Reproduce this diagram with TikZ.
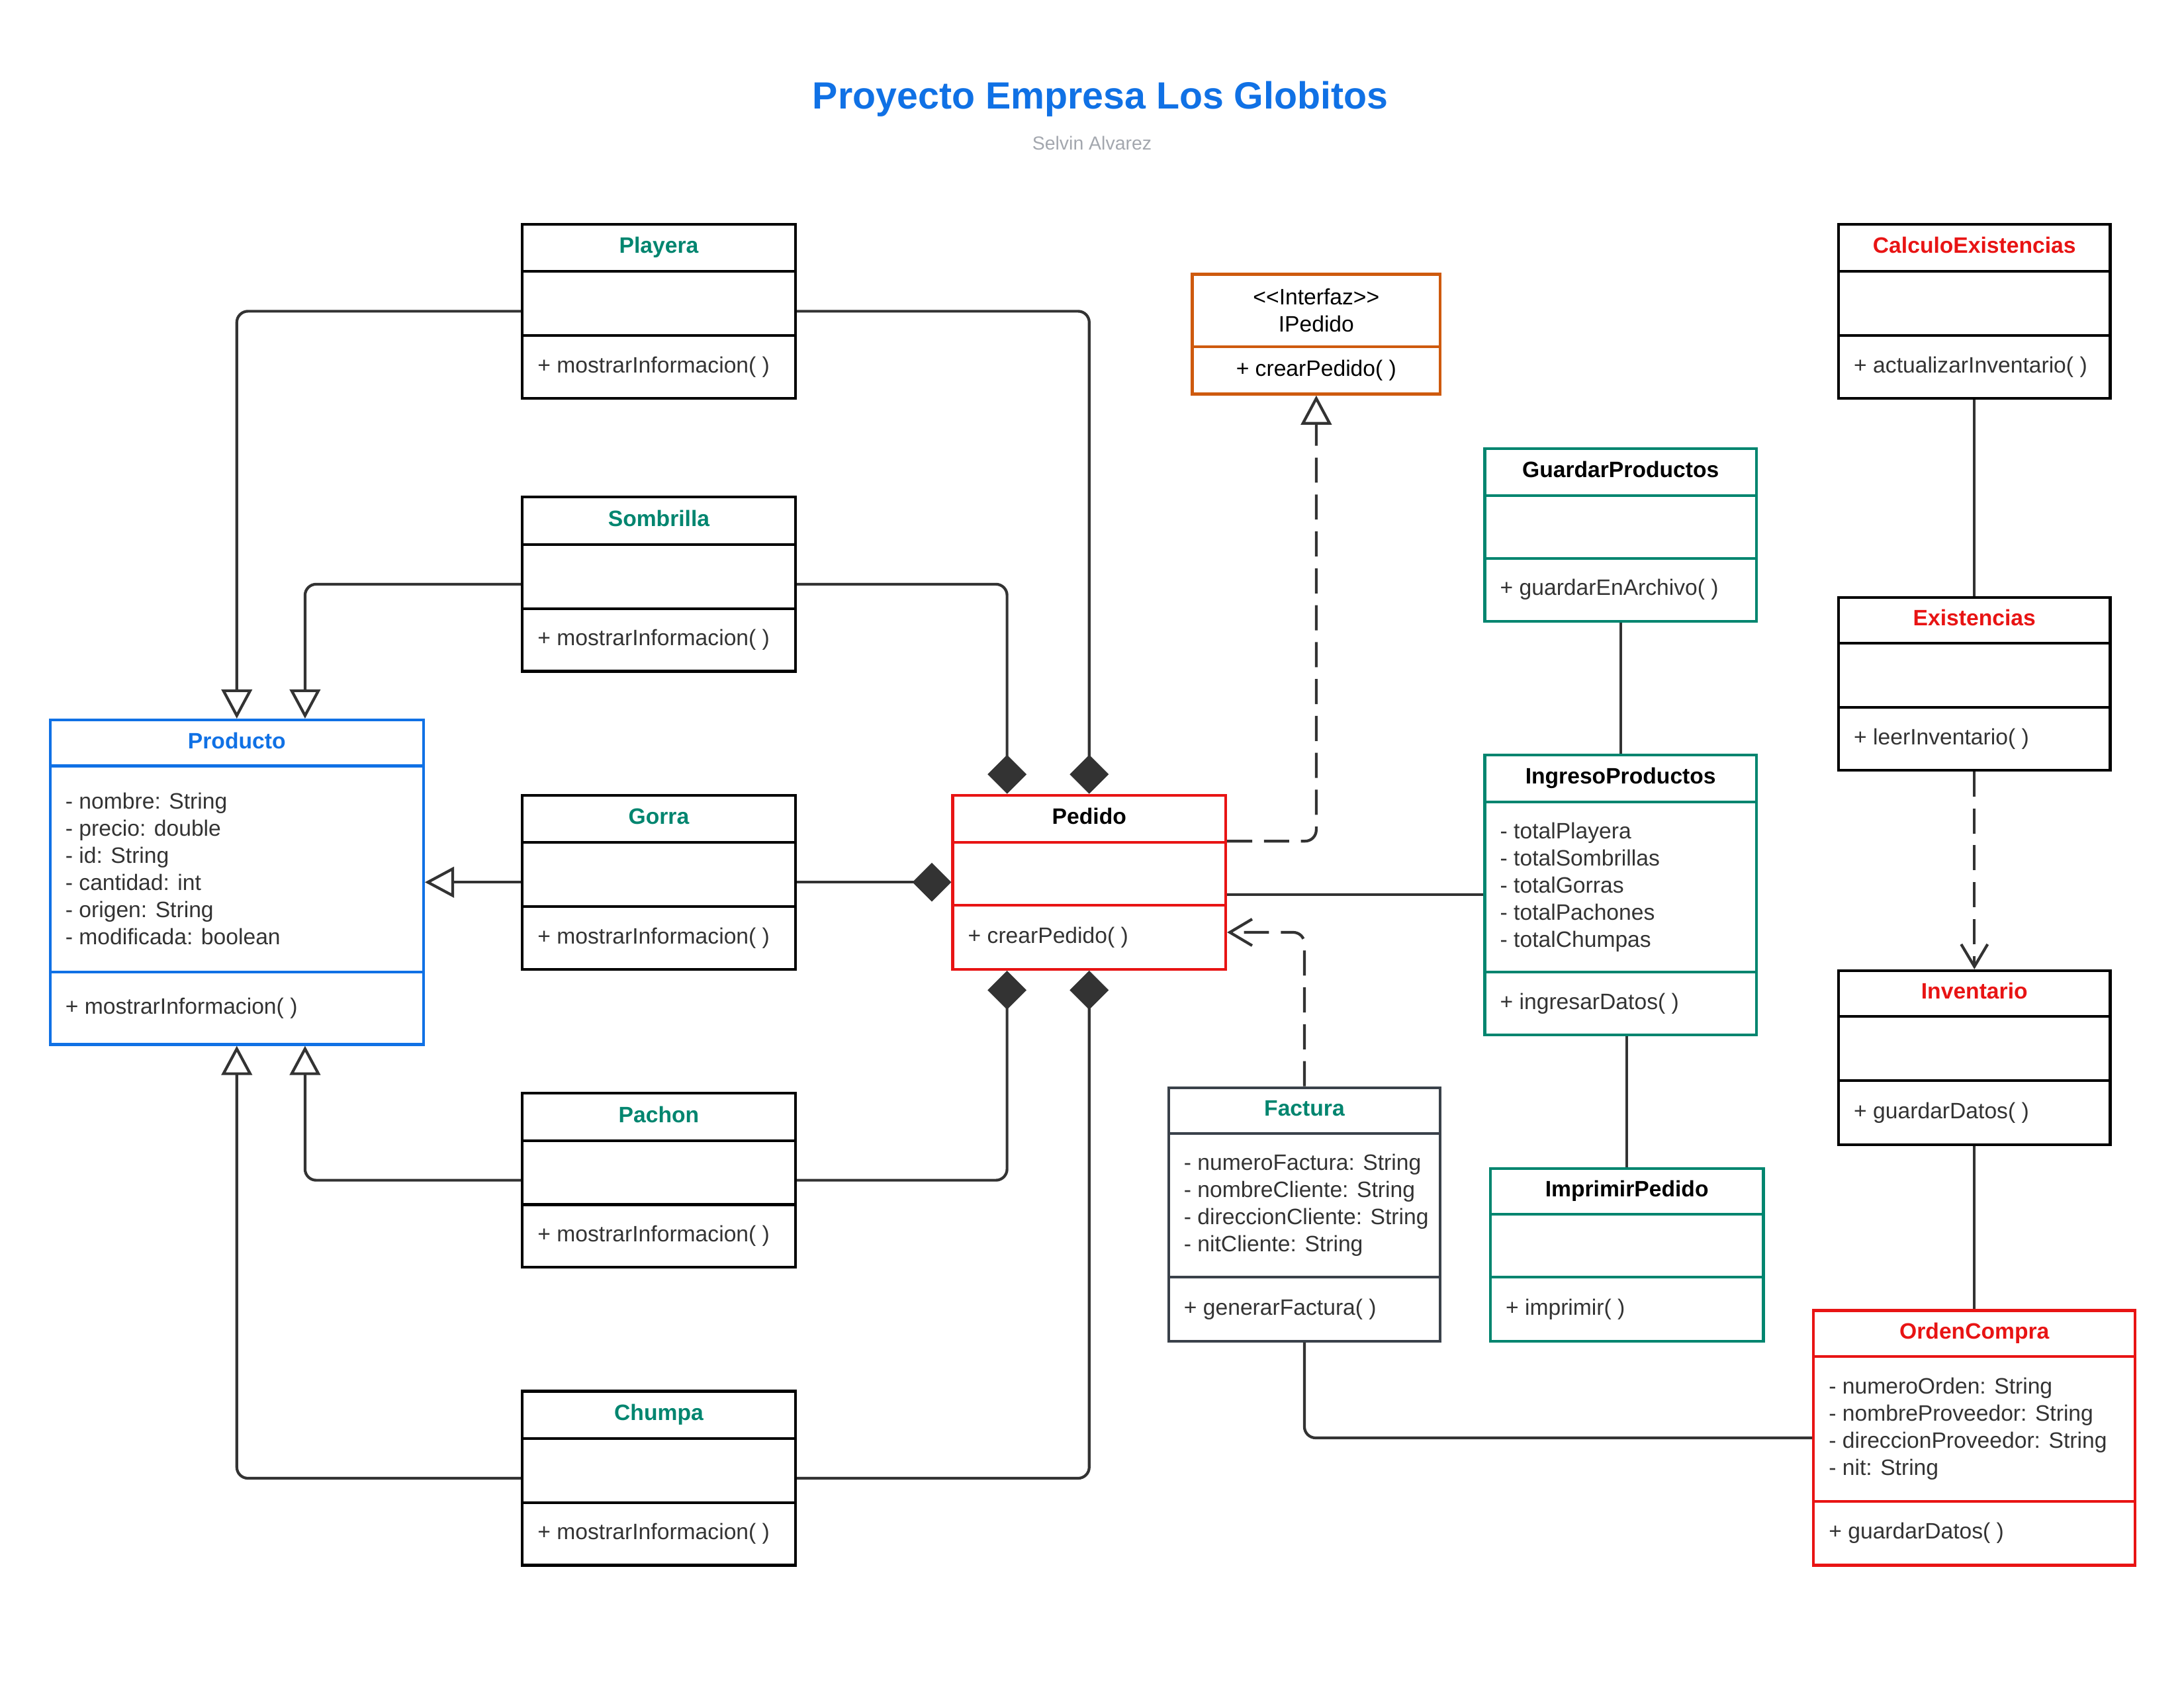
\documentclass[tikz,border=0pt]{standalone}
\usepackage{fontspec}
\setmainfont{Liberation Sans}
\usetikzlibrary{arrows.meta,shapes.multipart,calc}

\definecolor{azul}{HTML}{1071E5}
\definecolor{rojo}{HTML}{E81414}
\definecolor{naranja}{HTML}{CE5A0E}
\definecolor{verde}{HTML}{00856F}
\definecolor{linea}{HTML}{333333}
\definecolor{gris}{HTML}{3A414A}
\definecolor{subt}{HTML}{A3A7AE}

\newlength\unidad
\setlength\unidad{0.02cm}
\newlength\colw
\newcommand{\alto}[1]{\dimexpr#1\unidad-2\unidad\relax}
\newcommand{\titulo}[3][black]{\parbox[c][\alto{#2}][c]{\colw}{\centering\bfseries\color{#1}\strut #3}}
\newcommand{\hueco}[1]{\parbox[c][\alto{#1}][c]{\colw}{\strut}}
\newcommand{\lista}[2]{\parbox[c][\alto{#1}][c]{\colw}{\raggedright\leftskip=11\unidad #2}}

\tikzset{
  clase/.style={rectangle split, rectangle split parts=3, draw=#1, line width=0.04cm,
    inner sep=0pt, anchor=north west, text=linea},
  ancho/.code={\setlength\colw{#1\unidad}},
  conector/.style={color=linea, line width=0.04cm, rounded corners=0.16cm},
  herencia/.style={-{Triangle[open,length=0.42cm,width=0.44cm]}},
  compo/.style={-{Diamond[length=0.56cm,width=0.56cm]}},
  discont/.style={dash pattern=on 0.36cm off 0.17cm},
  depen/.style={discont, -{Straight Barb[length=0.32cm,width=0.38cm]}},
}

\begin{document}
\begin{tikzpicture}[x=0.02cm, y=-0.02cm, font=\fontsize{9.1}{11.1}\selectfont]
  \useasboundingbox (0,0) rectangle (1568,1212);

  % titulo
  \node[font=\fontsize{15.5}{18}\selectfont\bfseries, text=azul] (titulo) at (790,71) {Proyecto Empresa Los Globitos};
  \node[font=\fontsize{7.7}{9}\selectfont, text=subt] (autor) at (784,103) {Selvin Alvarez};

  % productos
  \node[clase=azul, ancho=268] (producto) at (35,516)
    {\titulo[azul]{33}{Producto}\nodepart{two}\lista{148}{- nombre: String\\- precio: double\\- id: String\\- cantidad: int\\- origen: String\\- modificada: boolean}\nodepart{three}\lista{52}{+ mostrarInformacion( )}};
  \node[clase=black, ancho=196] (playera) at (374,160)
    {\titulo[verde]{34}{Playera}\nodepart{two}\hueco{46}\nodepart{three}\lista{45}{+ mostrarInformacion( )}};
  \node[clase=black, ancho=196] (sombrilla) at (374,356)
    {\titulo[verde]{34}{Sombrilla}\nodepart{two}\hueco{46}\nodepart{three}\lista{45}{+ mostrarInformacion( )}};
  \node[clase=black, ancho=196] (gorra) at (374,570)
    {\titulo[verde]{34}{Gorra}\nodepart{two}\hueco{46}\nodepart{three}\lista{45}{+ mostrarInformacion( )}};
  \node[clase=black, ancho=196] (pachon) at (374,784)
    {\titulo[verde]{34}{Pachon}\nodepart{two}\hueco{46}\nodepart{three}\lista{45}{+ mostrarInformacion( )}};
  \node[clase=black, ancho=196] (chumpa) at (374,998)
    {\titulo[verde]{34}{Chumpa}\nodepart{two}\hueco{46}\nodepart{three}\lista{45}{+ mostrarInformacion( )}};

  % pedido
  \node[clase=rojo, ancho=196] (pedido) at (683,570)
    {\titulo{34}{Pedido}\nodepart{two}\hueco{45}\nodepart{three}\lista{46}{+ crearPedido( )}};
  \node[clase=naranja, rectangle split parts=2, ancho=178, text=black] (ipedido) at (855,196)
    {\parbox[c][\alto{52}][c]{\colw}{\centering\mbox{<}\mbox{<}Interfaz\mbox{>}\mbox{>}\\IPedido}\nodepart{two}\parbox[c][\alto{34}][c]{\colw}{\centering\strut + crearPedido( )}};
  \node[clase=gris, ancho=195] (factura) at (838,780)
    {\titulo[verde]{33}{Factura}\nodepart{two}\lista{103}{- numeroFactura: String\\- nombreCliente: String\\- direccionCliente: String\\- nitCliente: String}\nodepart{three}\lista{46}{+ generarFactura( )}};

  % ingreso
  \node[clase=verde, ancho=195] (guardar) at (1065,321)
    {\titulo{34}{GuardarProductos}\nodepart{two}\hueco{45}\nodepart{three}\lista{45}{+ guardarEnArchivo( )}};
  \node[clase=verde, ancho=195] (ingreso) at (1065,541)
    {\titulo{34}{IngresoProductos}\nodepart{two}\lista{122}{- totalPlayera\\- totalSombrillas\\- totalGorras\\- totalPachones\\- totalChumpas}\nodepart{three}\lista{45}{+ ingresarDatos( )}};
  \node[clase=verde, ancho=196] (imprimir) at (1069,838)
    {\titulo{33}{ImprimirPedido}\nodepart{two}\hueco{45}\nodepart{three}\lista{46}{+ imprimir( )}};

  % inventario
  \node[clase=black, ancho=195] (calculo) at (1319,160)
    {\titulo[rojo]{34}{CalculoExistencias}\nodepart{two}\hueco{46}\nodepart{three}\lista{45}{+ actualizarInventario( )}};
  \node[clase=black, ancho=195] (existencias) at (1319,428)
    {\titulo[rojo]{33}{Existencias}\nodepart{two}\hueco{46}\nodepart{three}\lista{45}{+ leerInventario( )}};
  \node[clase=black, ancho=195] (inventario) at (1319,696)
    {\titulo[rojo]{33}{Inventario}\nodepart{two}\hueco{46}\nodepart{three}\lista{46}{+ guardarDatos( )}};
  \node[clase=rojo, ancho=231] (orden) at (1301,940)
    {\titulo[rojo]{33}{OrdenCompra}\nodepart{two}\lista{104}{- numeroOrden: String\\- nombreProveedor: String\\- direccionProveedor: String\\- nit: String}\nodepart{three}\lista{46}{+ guardarDatos( )}};

  % herencia
  \draw[conector, herencia] (playera.west) -| (producto.north);
  \draw[conector, herencia] (sombrilla.west) -| ($(producto.north)+(49,0)$);
  \draw[conector, herencia] (gorra.west) -- (producto.east);
  \draw[conector, herencia] (pachon.west) -| ($(producto.south)+(49,0)$);
  \draw[conector, herencia] (chumpa.west) -| (producto.south);

  % composicion
  \draw[conector, compo] (playera.east) -| (pedido.north);
  \draw[conector, compo] (sombrilla.east) -| ($(pedido.north)+(-59,0)$);
  \draw[conector, compo] (gorra.east) -- (pedido.west);
  \draw[conector, compo] (pachon.east) -| ($(pedido.south)+(-59,0)$);
  \draw[conector, compo] (chumpa.east) -| (pedido.south);

  % resto
  \draw[conector, discont, herencia] ($(pedido.north east)+(0,34)$) -| (ipedido.south);
  \draw[conector, depen] (factura.north) |- ($(pedido.east)+(0,36)$);
  \draw[conector] (ingreso.west) -- (ingreso.west -| pedido.east);
  \draw[conector] (guardar.south) -- (ingreso.north);
  \draw[conector] (ingreso.south -| imprimir.north) -- (imprimir.north);
  \draw[conector] (calculo.south) -- (existencias.north);
  \draw[conector, depen] (existencias.south) -- (inventario.north);
  \draw[conector] (inventario.south) -- (orden.north);
  \draw[conector] (factura.south) |- (orden.west);
\end{tikzpicture}
\end{document}
